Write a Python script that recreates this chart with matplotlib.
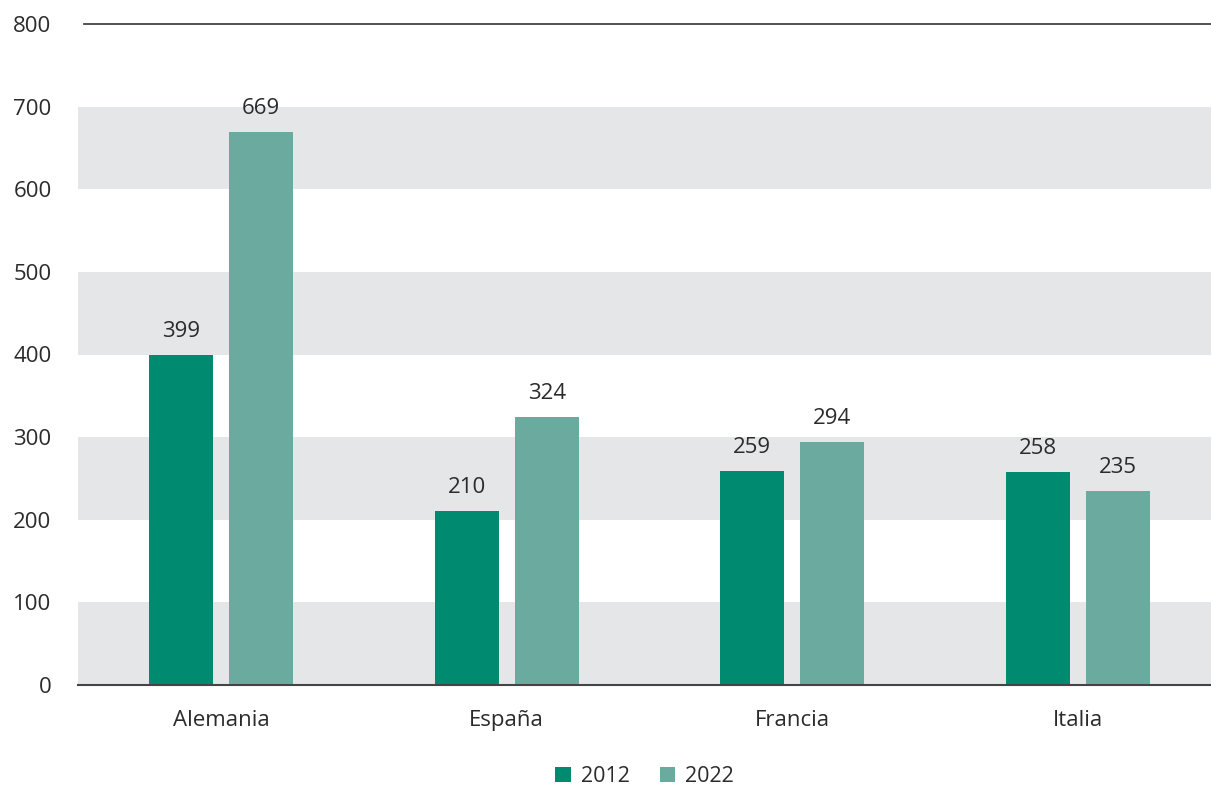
import matplotlib
matplotlib.use("Agg")
import matplotlib.pyplot as plt
import numpy as np

categories = ["Alemania", "España", "Francia", "Italia"]
series_names = ["2012", "2022"]
values_2012 = [399, 210, 259, 258]
values_2022 = [669, 324, 294, 235]
yticks = [0, 100, 200, 300, 400, 500, 600, 700, 800]

c2012 = "#008A70"
c2022 = "#6BAB9F"
band = "#E5E6E8"
txt = "#2B2B2B"

plt.rcParams['font.family'] = ['Open Sans', 'DejaVu Sans']

fig = plt.figure(figsize=(12.11, 7.85), dpi=100)
ax = fig.add_axes([78/1211, 100/785, 1 - 78/1211, (685-24)/785])

x = np.arange(len(categories))
w = 0.224
off = 0.14

# bands
for lo in range(0, 800, 200):
    ax.axhspan(lo, lo + 100, color=band, zorder=0, lw=0)

b1 = ax.bar(x - off, values_2012, w, color=c2012, label=series_names[0], zorder=2)
b2 = ax.bar(x + off, values_2022, w, color=c2022, label=series_names[1], zorder=2)

for bars, vals in ((b1, values_2012), (b2, values_2022)):
    for r, v in zip(bars, vals):
        ax.annotate(f"{v}", (r.get_x() + r.get_width()/2, v), xytext=(0, 9.5),
                    textcoords="offset points", ha="center", va="bottom",
                    fontsize=16, color=txt)

ax.set_xlim(-0.5, 3.465)
ax.set_ylim(0, 800)
ax.axhline(800, xmin=6/1133, xmax=1, color="#444444", lw=1.3, zorder=3, clip_on=False)

for s in ["top", "right", "left"]:
    ax.spines[s].set_visible(False)
ax.spines["bottom"].set_color("#444444")
ax.spines["bottom"].set_linewidth(1.5)
ax.spines["bottom"].set_zorder(4)

ax.set_yticks(yticks)
ax.set_yticklabels([str(t) for t in yticks], fontsize=16, color=txt)
ax.set_xticks(x)
ax.set_xticklabels(categories, fontsize=16, color=txt)
ax.tick_params(axis="y", length=0, pad=19)
ax.tick_params(axis="x", length=0, pad=18)
for lab in ax.get_yticklabels():
    lab.set_horizontalalignment("right")

leg = ax.legend(loc="center", bbox_to_anchor=(0.5, -0.138), ncol=2, frameon=False,
                fontsize=15.5, handlelength=0.72, handleheight=0.72, handletextpad=0.45,
                columnspacing=1.4)
for t in leg.get_texts():
    t.set_color(txt)

fig.savefig("out.png", dpi=100)
